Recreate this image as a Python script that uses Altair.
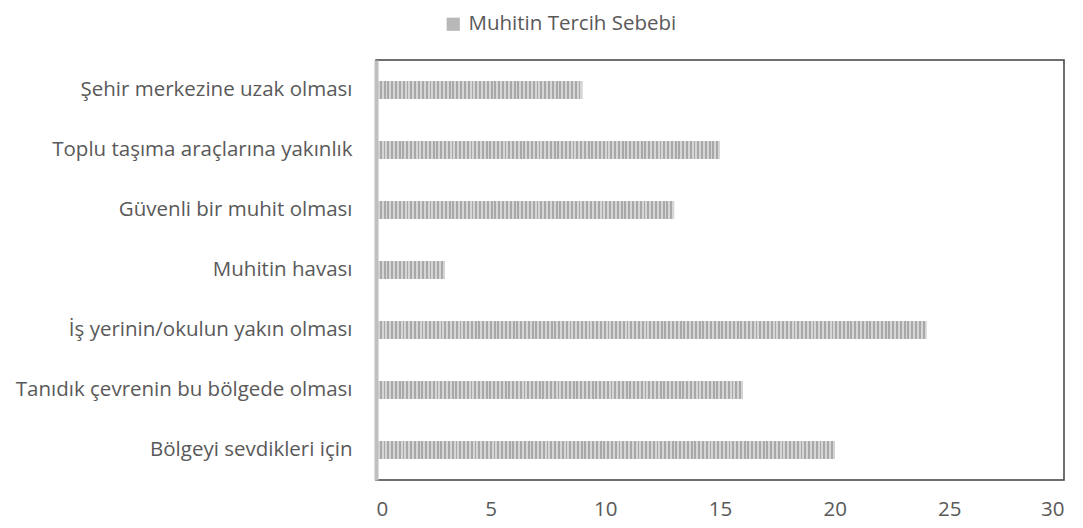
import altair as alt
import pandas as pd

categories = [
    "Şehir merkezine uzak olması",
    "Toplu taşıma araçlarına yakınlık",
    "Güvenli bir muhit olması",
    "Muhitin havası",
    "İş yerinin/okulun yakın olması",
    "Tanıdık çevrenin bu bölgede olması",
    "Bölgeyi sevdikleri için",
]
values = [9, 15, 13, 3, 24, 16, 20]
series_name = "Muhitin Tercih Sebebi"
x_ticks = [0, 5, 10, 15, 20, 25, 30]

df = pd.DataFrame({"cat": categories, "val": values, "series": series_name})

W, H = 688, 420
X_MAX = 30
FONT = "Open Sans"
FS = 20.5
TXT = "#595959"
DARK, LIGHT = "#a8a8a8", "#d6d6d6"
PERIOD = 3.8

y_enc = alt.Y("cat:N", scale=alt.Scale(domain=categories, paddingInner=0.7, paddingOuter=0.35),
              axis=alt.Axis(title=None, ticks=False, labelPadding=24, labelFontSize=FS,
                            labelColor=TXT, labelFont=FONT, domainColor="#bfbfbf",
                            domainWidth=4, zindex=1, labelLimit=500))
x_enc = alt.X("val:Q", scale=alt.Scale(domain=[0, X_MAX], nice=False),
              axis=alt.Axis(title=None, values=x_ticks, ticks=False, domain=False, grid=False,
                            labelPadding=19, labelFontSize=FS, labelColor=TXT, labelFont=FONT))

base = alt.Chart(df).mark_bar(strokeWidth=0).encode(
    x=x_enc, y=y_enc,
    color=alt.Color("series:N", scale=alt.Scale(range=["#b8b8b8"]),
                    legend=alt.Legend(title=None, orient="none", legendX=67, legendY=-46,
                                      symbolType="square", symbolSize=175, symbolStrokeWidth=0,
                                      labelFontSize=FS, labelColor=TXT, labelFont=FONT,
                                      labelOffset=5, symbolOpacity=1, labelLimit=500)),
)

layers = [base]
for c, v in zip(categories, values):
    length = v * W / X_MAX
    n = max(1, round(length / PERIOD))
    stops = []
    for i in range(n):
        a, m, b = i / n, (i + 0.5) / n, (i + 1) / n
        stops += [alt.GradientStop(offset=a, color=DARK), alt.GradientStop(offset=m, color=DARK),
                  alt.GradientStop(offset=m, color=LIGHT), alt.GradientStop(offset=b, color=LIGHT)]
    grad = alt.LinearGradient(gradient="linear", x1=0, x2=1, y1=0, y2=0, stops=stops)
    layers.append(
        alt.Chart(df).transform_filter(alt.datum.cat == c)
        .mark_bar(fill=grad, strokeWidth=0).encode(x=x_enc, y=y_enc)
    )

chart = alt.layer(*layers).properties(
    width=W, height=H,
    background="white",
    autosize=alt.AutoSizeParams(type="none"),
    padding={"left": 368, "top": 52, "right": 11, "bottom": 40},
).configure_view(stroke="#404040", strokeWidth=1.5)

chart.save("out.html", embed_options={"renderer": "svg", "actions": False})
